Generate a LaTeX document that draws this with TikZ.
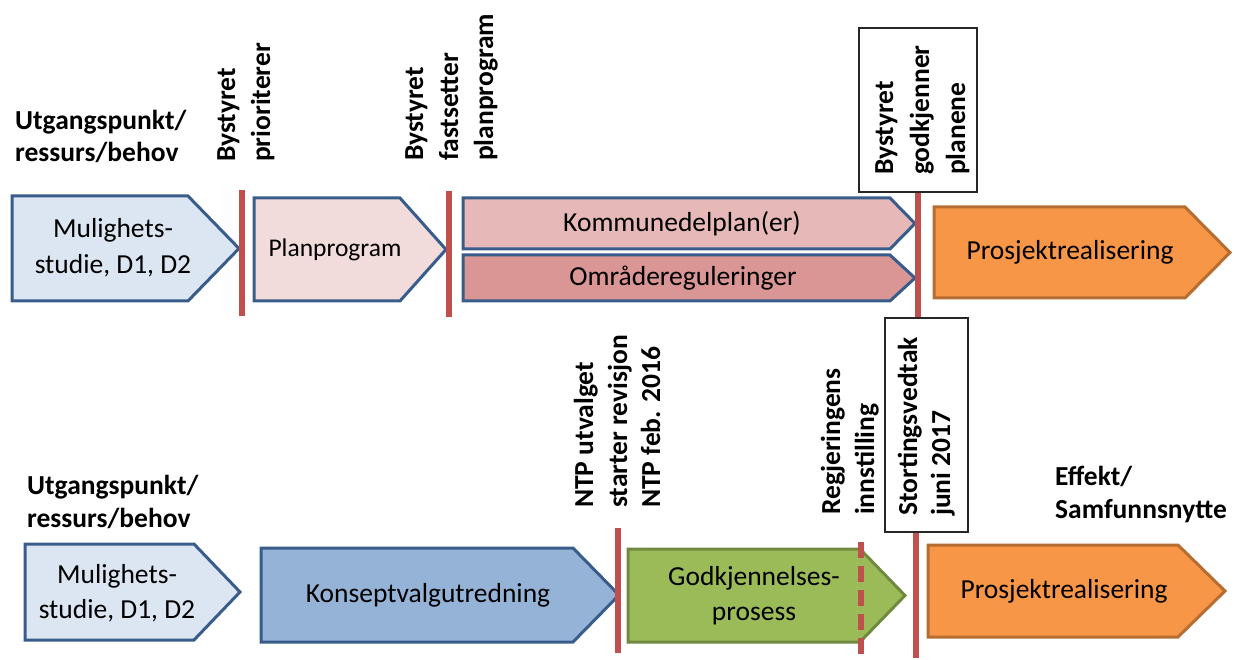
\documentclass[tikz,border=0pt]{standalone}
\usepackage{fontspec}
\setmainfont{Carlito}
\definecolor{bord}{HTML}{385D8A}
\definecolor{cmul}{HTML}{DCE6F2}
\definecolor{cplan}{HTML}{F2DCDB}
\definecolor{ckom}{HTML}{E6B9B8}
\definecolor{comr}{HTML}{D99694}
\definecolor{ckvu}{HTML}{95B3D7}
\definecolor{cgrn}{HTML}{9BBB59}
\definecolor{cgrnb}{HTML}{71893F}
\definecolor{corg}{HTML}{F79646}
\definecolor{corgb}{HTML}{B66D31}
\definecolor{msred}{HTML}{C0504D}
\begin{document}
\begin{tikzpicture}[x=1pt,y=-1pt,
  lbl/.style={font=\fontsize{27.5}{34}\selectfont\bfseries, inner sep=0pt},
  rot/.style={lbl, rotate=90, anchor=base west},
  hz/.style={lbl, anchor=base west},
  txt/.style={font=\fontsize{27.5}{34}\selectfont, inner sep=0pt, anchor=base},
  pbox/.style={draw=bord, line width=3pt, line join=miter},
  gbox/.style={draw=cgrnb, fill=cgrn, line width=3pt, line join=miter},
  obox/.style={draw=corgb, fill=corg, line width=3pt, line join=miter},
  wbox/.style={draw=black!85, fill=white, line width=1.3pt, inner sep=0pt},
  ms/.style={draw=msred, line width=5.5pt},
  msdash/.style={ms, dash pattern=on 16pt off 8pt}
]
\useasboundingbox (0,0) rectangle (1234,660);

% ---------- top row shapes ----------
\draw[pbox, fill=cmul]  (12,196) -- (188,196) -- (239,248.5) -- (188,301) -- (12,301) -- cycle;
\draw[pbox, fill=cplan] (254,198) -- (400,198) -- (446,249.5) -- (400,301) -- (254,301) -- cycle;
\draw[pbox, fill=ckom]  (463,198) -- (890,198) -- (915,223.5) -- (890,249) -- (463,249) -- cycle;
\draw[pbox, fill=comr]  (463,255) -- (890,255) -- (915,278) -- (890,301) -- (463,301) -- cycle;
\draw[obox] (934,207) -- (1185,207) -- (1230,252.5) -- (1185,298) -- (934,298) -- cycle;

% ---------- bottom row shapes ----------
\draw[pbox, fill=cmul] (25,544) -- (194,544) -- (240,592) -- (194,640) -- (25,640) -- cycle;
\draw[pbox, fill=ckvu] (261,548) -- (573,548) -- (619,595) -- (573,642) -- (261,642) -- cycle;
\draw[gbox] (628,549) -- (860,549) -- (905,595.5) -- (860,642) -- (628,642) -- cycle;
\draw[obox] (928,545) -- (1178,545) -- (1225,591) -- (1178,637) -- (928,637) -- cycle;

% ---------- white label boxes ----------
\node[wbox, minimum width=118pt, minimum height=164pt] (wb1) at (918,110) {};
\node[wbox, minimum width=83pt, minimum height=214pt] (wb2) at (926.5,425) {};

% ---------- milestone lines ----------
\coordinate (r1t) at (242,190); \coordinate (r1b) at (242,316);
\coordinate (r2t) at (449,191); \coordinate (r2b) at (449,317);
\coordinate (r4t) at (618,528); \coordinate (r4b) at (618,653);
\coordinate (r5t) at (861,542); \coordinate (r5b) at (861,657);
\coordinate (r6b) at (916,658);
\draw[ms] (r1t) -- (r1b);
\draw[ms] (r2t) -- (r2b);
\draw[ms] (wb1.south) -- (wb1.south |- wb2.north);
\draw[ms] (r4t) -- (r4b);
\draw[msdash] (r5t) -- (r5b);
\draw[ms] (r6b |- wb2.south) -- (r6b);

% ---------- box texts ----------
\node[txt] (m1a) at (113,238) {Mulighets-};
\node[txt] (m1b) at (113,274) {studie, D1, D2};
\node[txt, font=\fontsize{25.5}{30}\selectfont] (pp) at (335,257) {Planprogram};
\node[txt] (kp) at (682,232) {Kommunedelplan(er)};
\node[txt] (or) at (683,286) {Områdereguleringer};
\node[txt] (pr1) at (1070,260) {Prosjektrealisering};
\node[txt] (m2a) at (117,583) {Mulighets-};
\node[txt] (m2b) at (117,618) {studie, D1, D2};
\node[txt] (kv) at (428,602) {Konseptvalgutredning};
\node[txt] (gk1) at (754,585) {Godkjennelses-};
\node[txt] (gk2) at (754,620) {prosess};
\node[txt] (pr2) at (1064,598) {Prosjektrealisering};

% ---------- horizontal labels ----------
\node[hz] (u1a) at (15,130) {Utgangspunkt/};
\node[hz] (u1b) at (15,162) {ressurs/behov};
\node[hz] (u2a) at (27,494) {Utgangspunkt/};
\node[hz] (u2b) at (27,527) {ressurs/behov};
\node[hz] (ef1) at (1055,485) {Effekt/};
\node[hz] (ef2) at (1055,518) {Samfunnsnytte};

% ---------- rotated labels ----------
\node[rot] (b1a) at (235,162) {Bystyret};
\node[rot] (b1b) at (270,162) {prioriterer};
\node[rot] (b2a) at (423,161) {Bystyret};
\node[rot] (b2b) at (458,161) {fastsetter};
\node[rot] (b2c) at (493,161) {planprogram};
\node[rot] (b3a) at (893,175) {Bystyret};
\node[rot] (b3b) at (929,175) {godkjenner};
\node[rot] (b3c) at (965,175) {planene};
\node[rot] (n1) at (593,508) {NTP utvalget};
\node[rot] (n2) at (627,508) {starter revisjon};
\node[rot] (n3) at (660,508) {NTP feb. 2016};
\node[rot] (rg1) at (840,515) {Regjeringens};
\node[rot] (rg2) at (874,515) {innstilling};
\node[rot] (st1) at (917,516) {Stortingsvedtak};
\node[rot] (st2) at (950,516) {juni 2017};
\end{tikzpicture}
\end{document}
